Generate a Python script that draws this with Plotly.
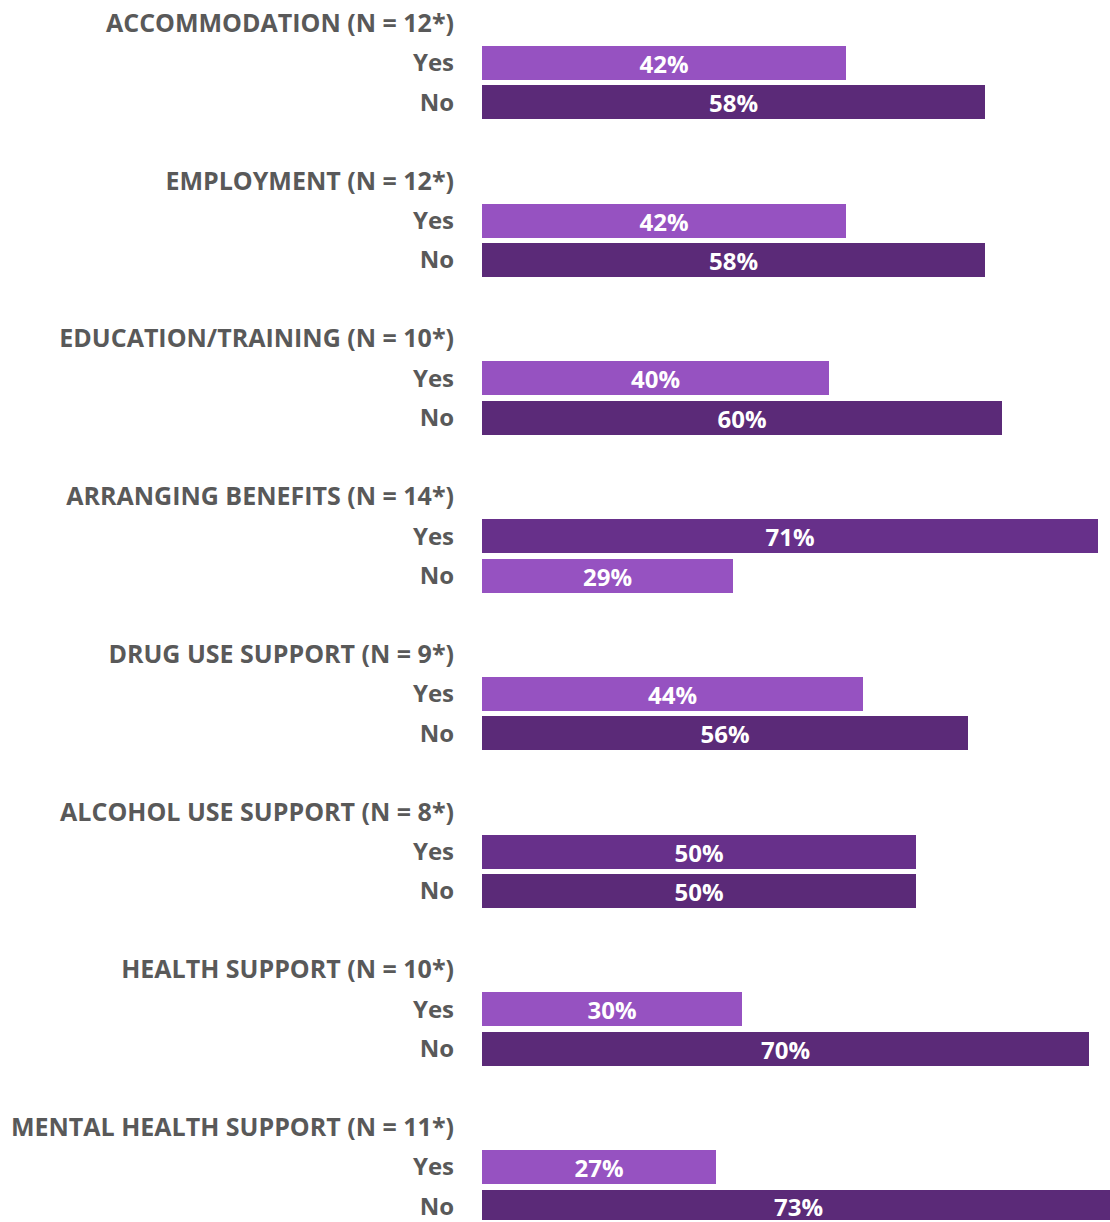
import plotly.graph_objects as go

# Survey results: share of respondents answering Yes / No per support area
areas = ["ACCOMMODATION", "EMPLOYMENT", "EDUCATION/TRAINING", "ARRANGING BENEFITS",
         "DRUG USE SUPPORT", "ALCOHOL USE SUPPORT", "HEALTH SUPPORT", "MENTAL HEALTH SUPPORT"]
base_n = [12, 12, 10, 14, 9, 8, 10, 11]
yes_pct = [42, 42, 40, 71, 44, 50, 30, 27]
no_pct = [58, 58, 60, 29, 56, 50, 70, 73]
answers = ["Yes", "No"]

LIGHT = "#9652C1"
DARK_YES = "#67308A"
DARK_NO = "#5B2A78"
GREY = "#595959"
FONT = "'Open Sans', Lato, sans-serif"

# Each area occupies four rows: heading, Yes, No, spacer
tick_vals, tick_text = [], []
bar_y, bar_x, bar_colors = [], [], []
for i, (area, n, y, no) in enumerate(zip(areas, base_n, yes_pct, no_pct)):
    row = i * 4
    tick_vals.append(row)
    tick_text.append(f"<span style='font-size:25px'><b>{area} (N = {n}*)</b></span>")
    for j, (ans, val) in enumerate(zip(answers, [y, no])):
        other = no if j == 0 else y
        tick_vals.append(row + 1 + j)
        tick_text.append(f"<b>{ans}</b>")
        bar_y.append(row + 1 + j)
        bar_x.append(val)
        if val >= other:
            bar_colors.append(DARK_YES if j == 0 else DARK_NO)
        else:
            bar_colors.append(LIGHT)

fig = go.Figure(go.Bar(
    x=bar_x,
    y=bar_y,
    orientation="h",
    width=0.86,
    marker=dict(color=bar_colors, line=dict(width=0)),
    texttemplate="<b>%{x}%</b>",
    textposition="inside",
    insidetextanchor="middle",
    constraintext="none",
    textangle=0,
    textfont=dict(family=FONT, size=24, color="white"),
    hoverinfo="skip",
))

px_per_row = 39.5
top_offset = 23.5
y0 = -top_offset / px_per_row
y1 = y0 + 1222 / px_per_row

fig.update_layout(
    width=1110,
    height=1222,
    margin=dict(l=482, r=0, t=0, b=0),
    paper_bgcolor="white",
    plot_bgcolor="white",
    showlegend=False,
    bargap=0,
    uniformtext=dict(minsize=24, mode="show"),
    xaxis=dict(range=[0, 628 / 8.67], visible=False, fixedrange=True),
    yaxis=dict(
        range=[y1, y0],
        tickvals=tick_vals,
        ticktext=tick_text,
        tickfont=dict(family=FONT, size=24, color=GREY),
        ticks="",
        ticklabelstandoff=27,
        ticklabeloverflow="allow",
        showgrid=False,
        zeroline=False,
        showline=False,
        fixedrange=True,
    ),
)

fig.write_html("out.html")
